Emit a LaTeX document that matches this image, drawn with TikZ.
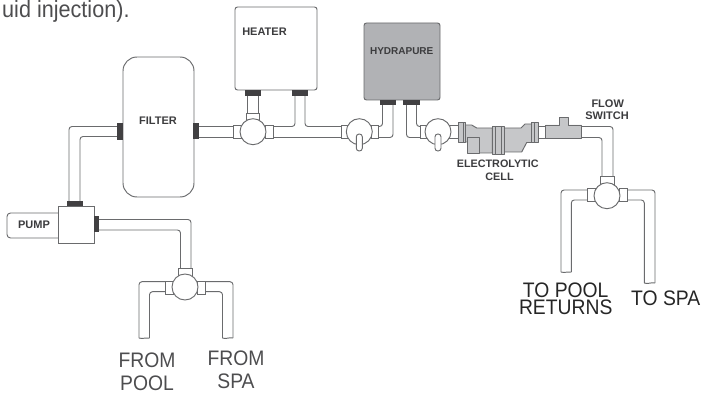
\documentclass[tikz,border=0pt]{standalone}
\usepackage{fontspec}
\setmainfont{Liberation Sans}
\definecolor{ln}{HTML}{6A6B6D}
\definecolor{blk}{HTML}{414042}
\definecolor{hyd}{HTML}{B1B2B5}
\definecolor{cellc}{HTML}{C6C7C9}
\definecolor{txtc}{HTML}{4D4D4F}
\definecolor{tagc}{HTML}{3C3C3E}
\tikzset{
  x=1pt,y=-1pt,
  pipe/.style={draw=ln,line width=0.95pt,rounded corners=3pt,line join=round},
  part/.style={draw=ln,line width=0.95pt,fill=white},
  cellpart/.style={draw=ln,line width=0.95pt,fill=cellc,line join=round},
  inner line/.style={draw=ln,line width=0.8pt},
  fitting/.style={fill=blk,draw=none},
  box/.style={draw=ln,line width=0.95pt,fill=white,rounded corners=2.5pt,inner sep=0pt,outer sep=0pt},
  valve/.style={circle,draw=ln,line width=0.95pt,fill=white,minimum size=26pt,inner sep=0pt,outer sep=0pt},
  handle/.style={draw=ln,line width=0.95pt,fill=white,rounded corners=2.8pt},
  tag/.style={font=\fontsize{11}{11}\selectfont\bfseries,text=tagc,inner sep=0pt},
  big/.style={font=\fontsize{21}{21}\selectfont,text=txtc,inner sep=0pt,transform shape,xscale=.92},
  bigk/.style={font=\fontsize{21}{21}\selectfont,text=black!85,inner sep=0pt,transform shape,xscale=.92},
}
\begin{document}
\begin{tikzpicture}
\useasboundingbox (0,0) rectangle (704,393);
\node[big,font=\fontsize{23.5}{23.5}\selectfont,anchor=base west] (intro) at (2,18) {uid injection).};

% pipes: filter to pump
\draw[pipe] (117,126.5) -- (69,126.5) -- (69,201);
\draw[pipe] (117,136.5) -- (80,136.5) -- (80,201);
% filter to heater valve
\draw[pipe] (199,126.5) -- (233,126.5);
\draw[pipe] (199,137.5) -- (233,137.5);
% heater valve to heater
\draw[pipe] (247.5,96) -- (247.5,113);
\draw[pipe] (258.5,96) -- (258.5,113);
\draw[pipe] (273,126.5) -- (295,126.5) -- (295,96);
\draw[pipe] (305,96) -- (305,126.5) -- (341,126.5);
\draw[pipe] (273,137.5) -- (341,137.5);
% valve 2 to hydrapure
\draw[pipe] (378,126.5) -- (382.5,126.5) -- (382.5,105);
\draw[pipe] (378,137.5) -- (393,137.5) -- (393,105);
\draw[pipe] (406.5,105) -- (406.5,137.5) -- (420,137.5);
\draw[pipe] (416.5,105) -- (416.5,126.5) -- (420,126.5);
% flow switch to return valve
\draw[pipe] (581,126.5) -- (613,126.5) -- (613,176);
\draw[pipe] (581,137.5) -- (602,137.5) -- (602,176);
% pump to suction valve
\draw[pipe] (99,219.5) -- (191,219.5) -- (191,268);
\draw[pipe] (99,230) -- (180.5,230) -- (180.5,268);
% suction legs
\draw[pipe] (166,281.7) -- (139,281.7) -- (139,338);
\draw[pipe] (166,291.7) -- (149.5,291.7) -- (149.5,338);
\draw[pipe,rounded corners=0pt] (139,338) .. controls (143,339.5) and (146,337) .. (149.5,338);
\draw[pipe] (205,281.7) -- (233,281.7) -- (233,338);
\draw[pipe] (205,291.7) -- (222.5,291.7) -- (222.5,338);
\draw[pipe,rounded corners=0pt] (222.5,338) .. controls (226,339.5) and (229,337) .. (233,338);
% return legs
\draw[pipe] (588,190) -- (561,190) -- (561,272);
\draw[pipe] (588,200) -- (571.3,200) -- (571.3,272);
\draw[pipe,rounded corners=0pt] (561,272) .. controls (565,273.5) and (568,271) .. (571.3,272);
\draw[pipe] (627,190) -- (655,190) -- (655,283);
\draw[pipe] (627,200) -- (644.3,200) -- (644.3,283);
\draw[pipe,rounded corners=0pt] (644.3,283) .. controls (648,284.5) and (651,282) .. (655,283);

% equipment
\node[box,minimum width=71pt,minimum height=140pt,rounded corners=14pt] (filter) at (158.5,127) {};
\node[box,minimum width=82pt,minimum height=83pt] (heater) at (276,48.5) {};
\node[box,fill=hyd,minimum width=76pt,minimum height=77pt] (hydrapure) at (402,61.5) {};
\node[draw=ln,line width=0.95pt,fill=white,rounded corners=3.5pt,inner sep=0pt,minimum width=60pt,minimum height=25pt] (pumptag) at (37,225.5) {};
\node[draw=ln,line width=0.95pt,fill=white,inner sep=0pt,minimum width=36pt,minimum height=37pt] (pump) at (76,224.5) {};

% black fittings
\fill[fitting] (117,123) rectangle (123,140);
\fill[fitting] (193,123) rectangle (199,139);
\fill[fitting] (245,90) rectangle (261,96);
\fill[fitting] (292,90) rectangle (308,96);
\fill[fitting] (380,100) rectangle (396,105);
\fill[fitting] (403,100) rectangle (419.5,105);
\fill[fitting] (67,201) rectangle (83,206);
\fill[fitting] (94,216) rectangle (99,232);

% valve stubs
\draw[part] (246.5,113) rectangle (259.5,120);
\draw[part] (233,125) rectangle (241,138);
\draw[part] (265,125) rectangle (273,138);
\draw[part] (341.3,125) rectangle (348,138);
\draw[part] (371,125) rectangle (378,138);
\draw[part] (420,125) rectangle (427,138);
\draw[part] (449,125) rectangle (458.5,138);
\draw[part] (178.5,268) rectangle (192.5,276);
\draw[part] (165.5,281) rectangle (173,294);
\draw[part] (197,281) rectangle (205.5,294);
\draw[part] (600.7,176) rectangle (614.3,184);
\draw[part] (587.3,188.3) rectangle (595,201.7);
\draw[part] (619,188.3) rectangle (627.7,201.7);
\draw[part] (538,126) rectangle (546,138);

% valves
\node[valve] (v1) at (253,131.7) {};
\node[valve] (v2) at (359.3,131.7) {};
\node[valve] (v3) at (438,131.7) {};
\node[valve] (v4) at (607,195.7) {};
\node[valve] (v5) at (185,287) {};
\draw[handle] (356.3,134) rectangle (362.3,151);
\draw[handle] (435,134) rectangle (441,151);

% electrolytic cell
\draw[cellpart] (465,125) -- (471.7,125) -- (476.7,128) -- (492.3,128) -- (492.3,153) -- (479,153) -- (479,142) -- (465,142) -- cycle;
\draw[cellpart] (467.7,137.7) rectangle (479.3,153.3);
\draw[cellpart] (504,128) -- (521,128) -- (525,124) -- (532,124) -- (532,142.5) -- (526.7,142.5) -- (521.7,152) -- (504,152) -- cycle;
\draw[cellpart] (458.3,122.3) rectangle (465,142.3);
\draw[inner line] (463,122.3) -- (463,142.3);
\draw[cellpart] (531.7,122.3) rectangle (538.3,142.3);
\draw[inner line] (534,122.3) -- (534,142.3);
\draw[cellpart] (492.3,126) rectangle (504.3,154);
\draw[inner line] (495,126) -- (495,154);
\draw[inner line] (501.7,126) -- (501.7,154);
% flow switch
\draw[cellpart] (545.7,125) -- (559,125) -- (559,117.3) -- (568.3,117.3) -- (568.3,125) -- (581.7,125) -- (581.7,138.3) -- (545.7,138.3) -- cycle;

% labels
\node[tag] (lheater) at (264.5,32) {HEATER};
\node[tag] (lfilter) at (158,120.5) {FILTER};
\node[tag,font=\fontsize{10}{10}\selectfont\bfseries] (lhydra) at (401.7,51) {HYDRAPURE};
\node[tag] (lpump) at (34,225) {PUMP};
\node[tag,font=\fontsize{10.8}{10.8}\selectfont\bfseries] (lelec) at (497.7,164) {ELECTROLYTIC};
\node[tag,font=\fontsize{10.8}{10.8}\selectfont\bfseries] (lcell) at (499.5,176.5) {CELL};
\node[tag] (lflow) at (607.7,103.5) {FLOW};
\node[tag] (lswitch) at (607,116) {SWITCH};
\node[big] (fp1) at (147,360) {FROM};
\node[big] (fp2) at (147,383) {POOL};
\node[big] (fs1) at (236,358.5) {FROM};
\node[big] (fs2) at (236,381.5) {SPA};
\node[bigk] (tp1) at (565.7,290) {TO POOL};
\node[bigk] (tp2) at (565.7,307.5) {RETURNS};
\node[bigk] (ts) at (665.7,298.7) {TO SPA};
\end{tikzpicture}
\end{document}
